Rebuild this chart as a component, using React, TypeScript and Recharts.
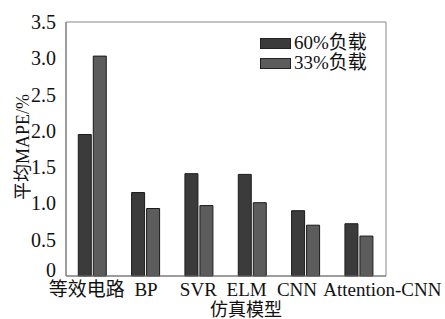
import { BarChart, Bar, XAxis, YAxis, Label, ReferenceArea } from 'recharts'

const categories = ['等效电路', 'BP', 'SVR', 'ELM', 'CNN', 'Attention-CNN']
const load60 = [1.95, 1.15, 1.41, 1.4, 0.9, 0.72]
const load33 = [3.03, 0.93, 0.97, 1.01, 0.7, 0.55]
const yTicks = [0, 0.5, 1.0, 1.5, 2.0, 2.5, 3.0, 3.5]

const data = categories.map((name, i) => ({ name, a: load60[i], b: load33[i] }))

const FONT = '"Liberation Serif", "Noto Sans CJK SC", serif'
const DARK = '#3b3b3b'
const LIGHT = '#5c5c5c'

// the original labels are not centred under their bars
const labelShift = [-6, 0, -1, -6, -9, 23]

function CatTick(props: any) {
  const { x, y, payload, index } = props
  return (
    <text x={x + (labelShift[index] || 0)} y={y} dy={14} textAnchor="middle"
      fill="#111" fontSize={19} fontFamily={FONT}>
      {payload.value}
    </text>
  )
}

function ValTick(props: any) {
  const { x, y, payload } = props
  const v = payload.value as number
  return (
    <text x={x} y={y} dy={v === 0 ? 1 : 7} textAnchor="end" fill="#111" fontSize={20} fontFamily={FONT}>
      {v === 0 ? '0' : v.toFixed(1)}
    </text>
  )
}

function LegendBox() {
  const items = [
    { label: '60%负载', color: DARK },
    { label: '33%负载', color: LIGHT },
  ]
  return (
    <div style={{ position: 'absolute', left: 260, top: 33, fontFamily: FONT, fontSize: 19, color: '#111', lineHeight: '20px' }}>
      {items.map((it) => (
        <div key={it.label} style={{ display: 'flex', alignItems: 'center' }}>
          <span style={{ width: 29, height: 9, background: it.color, border: '1px solid #222', display: 'inline-block', marginRight: 3 }} />
          {it.label}
        </div>
      ))}
    </div>
  )
}

export default function App() {
  return (
    <div style={{ position: 'absolute', left: 0, top: 0, background: '#fff', fontFamily: FONT }}>
      <BarChart width={445} height={319} data={data} margin={{ top: 22, right: 59, bottom: 0, left: 0 }}
        barCategoryGap="23%" barGap={2} style={{ fontFamily: FONT }}>
        <XAxis dataKey="name" height={43} interval={0} tickLine={false} stroke="#777"
          tick={<CatTick />} tickMargin={0}>
          <Label value="仿真模型" position="insideBottom" offset={3} dx={20}
            style={{ fontSize: 18, fontFamily: FONT, fill: '#111' }} />
        </XAxis>
        <YAxis width={66} domain={[0, 3.5]} ticks={yTicks} tickLine={false} stroke="#777"
          tick={<ValTick />} tickMargin={4}>
          <Label value="平均MAPE/%" angle={-90} position="center" dx={-10} dy={-2}
            style={{ fontSize: 18, fontFamily: FONT, fill: '#111' }} />
        </YAxis>
        <ReferenceArea y1={0} y2={3.5} fill="none" stroke="#888" strokeWidth={1} />
        <Bar dataKey="a" name="60%负载" fill={DARK} stroke="#1a1a1a" strokeWidth={1} isAnimationActive={false} />
        <Bar dataKey="b" name="33%负载" fill={LIGHT} stroke="#1a1a1a" strokeWidth={1} isAnimationActive={false} />
      </BarChart>
      <LegendBox />
    </div>
  )
}
